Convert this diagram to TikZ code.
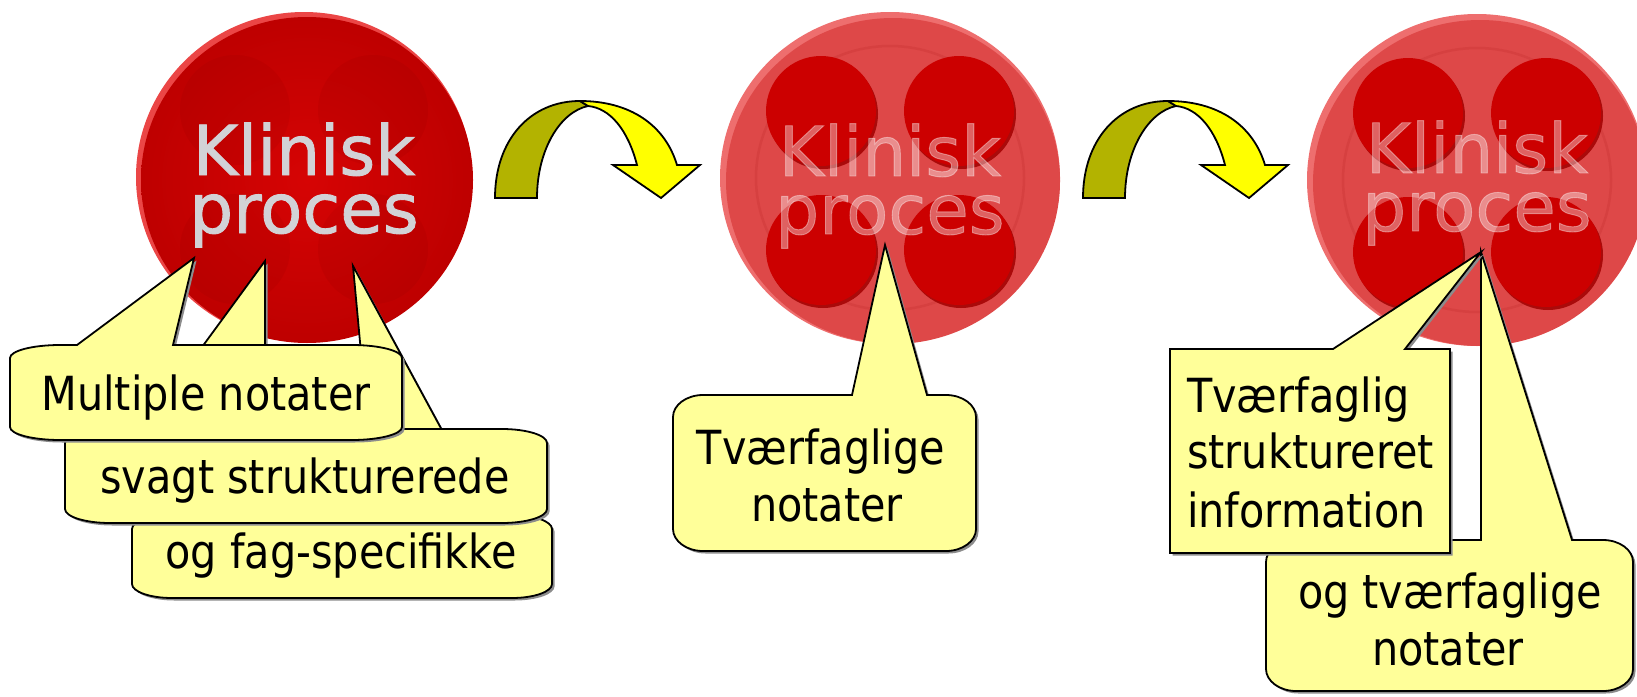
\documentclass[tikz,border=0pt]{standalone}
\usepackage{fontspec}
\setmainfont{DejaVu Sans}
\newfontfamily\notefont{DejaVu Sans}[FakeStretch=0.88]
\newfontfamily\buttonfont{DejaVu Sans}[FakeBold=1.3]
\usetikzlibrary{shadows}
\definecolor{note-yellow}{RGB}{255,255,153}
\definecolor{arrow-yellow}{RGB}{255,255,0}
\definecolor{arrow-olive}{RGB}{179,179,0}
\definecolor{btn-light}{RGB}{235,70,70}
\definecolor{btn-red}{RGB}{214,4,4}
\definecolor{btn-dark}{RGB}{190,0,0}
\definecolor{emboss-gray}{RGB}{210,210,214}
\definecolor{plate-light}{RGB}{238,110,110}
\definecolor{plate-red}{RGB}{222,72,72}
\definecolor{plate-ring}{RGB}{214,64,64}
\definecolor{disc-red}{RGB}{204,0,0}
\definecolor{disc-shade}{RGB}{170,10,10}

\tikzset{
  note/.style={fill=note-yellow, draw=black, line width=1.8pt,
    drop shadow={shadow xshift=2.5pt, shadow yshift=-2.5pt, fill=black!45, opacity=1}},
  notetext/.style={font=\notefont\fontsize{47}{57}\selectfont, inner sep=0pt, anchor=base},
  buttontext/.style={font=\buttonfont\fontsize{69}{58}\selectfont, inner sep=0pt, align=center},
  arrowband/.style={draw=black, line width=1.8pt},
}

% box x1,y1,x2,y2, corner rx,ry, tail base bx1,bx2, tail tip
\newcommand{\calloutpath}[9]{%
  (#1,{#2+#6}) .. controls (#1,{#2+0.45*#6}) and ({#1+0.45*#5},#2) .. ({#1+#5},#2)
  -- (#7,#2) -- (#9) -- (#8,#2)
  -- ({#3-#5},#2) .. controls ({#3-0.45*#5},#2) and (#3,{#2+0.45*#6}) .. (#3,{#2+#6})
  -- (#3,{#4-#6}) .. controls (#3,{#4-0.45*#6}) and ({#3-0.45*#5},#4) .. ({#3-#5},#4)
  -- ({#1+#5},#4) .. controls ({#1+0.45*#5},#4) and (#1,{#4-0.45*#6}) .. (#1,{#4-#6})
  -- cycle}

\begin{document}
\begin{tikzpicture}[x=1pt, y=-1pt]
\useasboundingbox[fill=white] (0,0) rectangle (1637,696);

% first button
\fill[btn-light] (304,177) ellipse [x radius=168, y radius=165];
\shade[inner color=btn-red, outer color=btn-dark] (307,180) ellipse [x radius=166, y radius=163];
\foreach \dx/\dy in {-69/-67, 69/-67, -69/72, 69/72}
  \fill[black, opacity=.035] ({304+\dx},{177+\dy}) circle (55);
\node[buttontext, text=emboss-gray] (klin-one) at (304,185) {Klinisk\\proces};

% second and third button
\foreach \cx/\cy/\ty/\nm in {890/178/186/two, 1477/180/183/three} {
  \fill[plate-light] (\cx,\cy) ellipse [x radius=170, y radius=166];
  \fill[plate-red] ({\cx+3},{\cy+3}) ellipse [x radius=167, y radius=163];
  \draw[plate-ring, line width=2.5pt] (\cx,\cy) ellipse [x radius=134, y radius=132];
  \foreach \dx/\dy in {-69/-67, 69/-67, -69/72, 69/72} {
    \fill[disc-shade] ({\cx+\dx+2},{\cy+\dy+3}) circle (55);
    \fill[disc-red] ({\cx+\dx},{\cy+\dy}) circle (55);
  }
  \node[buttontext, text=white, text opacity=.38] (klin-\nm) at (\cx,\ty) {Klinisk\\proces};
}

% curved arrows
\foreach \dx in {0,588} {
  \begin{scope}[shift={(\dx,0)}]
    \filldraw[fill=arrow-olive, arrowband] (495,198) .. controls (495,140) and (530,101) .. (580,101)
      -- (588,106) .. controls (560,112) and (537,150) .. (537,198) -- cycle;
    \filldraw[fill=arrow-yellow, arrowband] (580,101) .. controls (630,101) and (665,125) .. (677,165)
      -- (700,165) -- (661,198) -- (613,165) -- (637,165)
      .. controls (628,130) and (610,108) .. (588,106) -- cycle;
  \end{scope}
}

% notes on the first button
\filldraw[note] \calloutpath{132}{515}{552}{598}{40}{14}{376}{488}{353,266};
\node[notetext] (fag) at (341,568) {og fag-specifikke};
\filldraw[note] \calloutpath{65}{429}{547}{523}{45}{14}{142}{265}{265,261};
\node[notetext] (svagt) at (305,493) {svagt strukturerede};
\filldraw[note] \calloutpath{10}{345}{402}{440}{50}{13}{77}{173}{194,258};
\node[notetext] (multi) at (206,410) {Multiple notater};

% note on the second button
\filldraw[note] \calloutpath{673}{395}{976}{551}{30}{22}{852}{927}{885,245};
\node[notetext] (tvf-a) at (821,464) {Tværfaglige};
\node[notetext] (tvf-b) at (827,521) {notater};

% notes on the third button
\filldraw[note] \calloutpath{1266}{540}{1633}{691}{30}{22}{1481}{1572}{1481,252};
\node[notetext] (ogtv-a) at (1450,608) {og tværfaglige};
\node[notetext] (ogtv-b) at (1448,665) {notater};
\filldraw[note] \calloutpath{1170}{349}{1450}{553}{0}{0}{1333}{1405}{1481,252};
\node[notetext, anchor=base west] (info-a) at (1187,412) {Tværfaglig};
\node[notetext, anchor=base west] (info-b) at (1187,468) {struktureret};
\node[notetext, anchor=base west] (info-c) at (1187,527) {information};
\end{tikzpicture}
\end{document}
